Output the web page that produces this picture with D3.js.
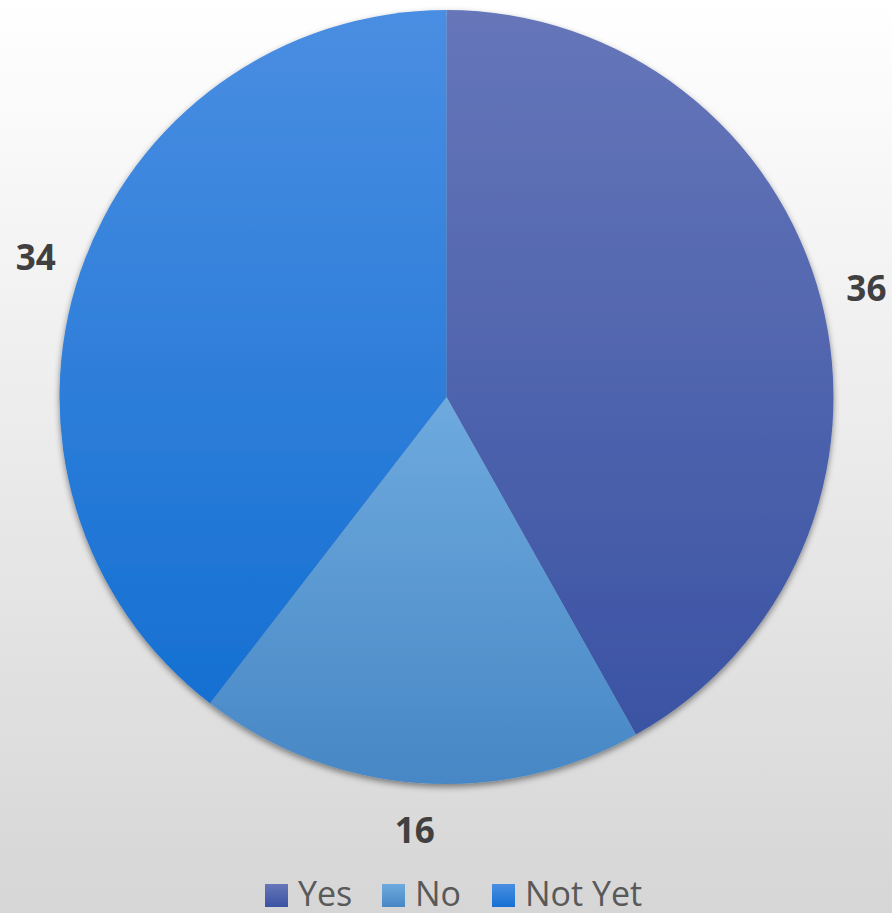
<!DOCTYPE html>
<html>
<head>
<meta charset="utf-8">
<script src="https://cdn.jsdelivr.net/npm/d3@7/dist/d3.min.js"></script>
<style>
  html, body { margin: 0; padding: 0; }
  svg { display: block; }
</style>
</head>
<body>
<div id="chart"></div>
<script>
// Survey answers
const categories = ["Yes", "No", "Not Yet"];
const values = [36, 16, 34];
// Gradient stops for each slice: [top, bottom]
const sliceTop = ["#6676b9", "#6eaade", "#4a8ee2"];
const sliceBottom = ["#3a53a3", "#4787c5", "#1570d2"];

const width = 892, height = 913;
const cx = 446.5, cy = 397, radius = 387;
const labelRadius = 434;

const svg = d3.select("#chart").append("svg")
  .attr("width", width).attr("height", height);

const defs = svg.append("defs");

// Page background: white fading to light grey
const bg = defs.append("linearGradient").attr("id", "bg")
  .attr("x1", 0).attr("y1", 0).attr("x2", 0).attr("y2", 1);
bg.append("stop").attr("offset", "0%").attr("stop-color", "#ffffff");
bg.append("stop").attr("offset", "100%").attr("stop-color", "#d6d6d6");

categories.forEach((c, i) => {
  const g = defs.append("linearGradient").attr("id", "grad" + i)
    .attr("x1", 0).attr("y1", 0).attr("x2", 0).attr("y2", 1);
  g.append("stop").attr("offset", "0%").attr("stop-color", sliceTop[i]);
  g.append("stop").attr("offset", "100%").attr("stop-color", sliceBottom[i]);
});

const shadow = defs.append("filter").attr("id", "shadow")
  .attr("x", "-10%").attr("y", "-10%").attr("width", "120%").attr("height", "120%");
shadow.append("feDropShadow")
  .attr("dx", 0).attr("dy", 3).attr("stdDeviation", 3)
  .attr("flood-color", "#000").attr("flood-opacity", 0.45);

svg.append("rect").attr("width", width).attr("height", height).attr("fill", "url(#bg)");

const pie = d3.pie().sort(null).value(d => d.value);
const data = pie(categories.map((c, i) => ({ name: c, value: values[i], i })));

const arc = d3.arc().innerRadius(0).outerRadius(radius);
const labelArc = d3.arc().innerRadius(labelRadius).outerRadius(labelRadius);

const plot = svg.append("g").attr("transform", `translate(${cx},${cy})`);

plot.append("g").attr("filter", "url(#shadow)")
  .selectAll("path").data(data).join("path")
  .attr("d", arc)
  .attr("fill", d => `url(#grad${d.data.i})`);

plot.selectAll("text.value").data(data).join("text")
  .attr("class", "value")
  .attr("transform", d => `translate(${labelArc.centroid(d)})`)
  .attr("text-anchor", "middle")
  .attr("dominant-baseline", "central")
  .attr("font-family", "'Open Sans', 'Liberation Sans', sans-serif")
  .attr("font-weight", "bold")
  .attr("font-size", 35)
  .attr("fill", "#404040")
  .text(d => d.data.value);

// Legend along the bottom edge
const legend = svg.append("g").attr("transform", "translate(265,884)");
const itemX = [0, 117, 227];
const item = legend.selectAll("g").data(categories).join("g")
  .attr("transform", (d, i) => `translate(${itemX[i]},0)`);
item.append("rect")
  .attr("width", 23).attr("height", 23)
  .attr("fill", (d, i) => `url(#grad${i})`);
item.append("text")
  .attr("x", 33).attr("y", 22)
  .attr("font-family", "'Open Sans', 'Liberation Sans', sans-serif")
  .attr("font-size", 34)
  .attr("fill", "#595959")
  .text(d => d);
</script>
</body>
</html>
